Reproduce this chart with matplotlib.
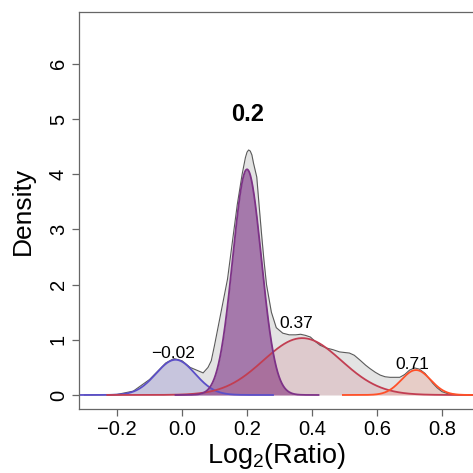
import numpy as np
import matplotlib
matplotlib.use("Agg")
import matplotlib.pyplot as plt

plt.rcParams['font.family'] = ['Liberation Sans', 'DejaVu Sans']
plt.rcParams['mathtext.fontset'] = 'custom'
plt.rcParams['mathtext.rm'] = 'Liberation Sans'
plt.rcParams['mathtext.default'] = 'regular'

# --- overall density ---
dens_x = [-0.30, -0.25, -0.20, -0.15, -0.10, -0.05, -0.025, 0.0, 0.025, 0.045,
          0.065, 0.08, 0.09, 0.10, 0.12, 0.14, 0.16, 0.17, 0.185, 0.195,
          0.20, 0.205, 0.21, 0.215, 0.22, 0.23, 0.237, 0.245, 0.252, 0.26,
          0.275, 0.29, 0.31, 0.33, 0.35, 0.365,
          0.38, 0.395, 0.41, 0.425, 0.445, 0.465, 0.485, 0.50, 0.515, 0.53,
          0.548, 0.565, 0.578, 0.595, 0.61, 0.625, 0.64, 0.655, 0.67, 0.685,
          0.70, 0.715, 0.73, 0.748, 0.76, 0.772, 0.785, 0.80, 0.82, 0.85, 0.95]
dens_y = [0.0, 0.002, 0.01, 0.07, 0.28, 0.58, 0.66, 0.62, 0.50, 0.45,
          0.40, 0.50, 0.62, 0.90, 1.50, 2.10, 3.00, 3.45, 4.00, 4.30,
          4.40, 4.44, 4.42, 4.35, 4.20, 3.95, 3.45, 2.90, 2.45, 2.00,
          1.50, 1.22, 1.12, 1.09, 1.09, 1.10,
          1.08, 1.05, 0.97, 0.90, 0.85, 0.82, 0.78, 0.77, 0.76, 0.72,
          0.63, 0.54, 0.48, 0.41, 0.36, 0.33, 0.32, 0.32, 0.32, 0.37,
          0.45, 0.49, 0.47, 0.39, 0.30, 0.21, 0.13, 0.06, 0.02, 0.005, 0.0]

# --- mixture components ---
comp_mean = [-0.02, 0.20, 0.37, 0.72]
comp_sd = [0.060, 0.044, 0.120, 0.045]
comp_weight = [0.096, 0.451, 0.310, 0.051]
comp_label = ['\u22120.02', '0.2', '0.37', '0.71']
comp_color = ['#5b4fc8', '#7d3287', '#c23e52', '#ff5028']
comp_alpha = [0.20, 0.60, 0.15, 0.15]
label_pos = [(-0.028, 0.76), (0.203, 5.08), (0.353, 1.30), (0.71, 0.56)]
label_size = [12.5, 17, 12.5, 12.5]
label_bold = [False, True, False, False]

fig = plt.figure(figsize=(4.73, 4.73), dpi=100)
ax = fig.add_axes([79 / 473, 64 / 473, (490.75 - 79) / 473, (461 - 64) / 473])

ax.fill_between(dens_x, dens_y, color='#e3e3e3', lw=0)
ax.plot(dens_x, dens_y, color='#5a5a5a', lw=0.8)

curves = []
for m, s, w in zip(comp_mean, comp_sd, comp_weight):
    xs = np.linspace(m - 5 * s, m + 5 * s, 400)
    ys = w / (s * np.sqrt(2 * np.pi)) * np.exp(-0.5 * ((xs - m) / s) ** 2)
    curves.append((xs, ys))

for (xs, ys), c, a in zip(curves, comp_color, comp_alpha):
    ax.fill_between(xs, ys, color=c, alpha=a, lw=0)

# line draw order: blue, red, purple, orange
for i in [0, 2, 1, 3]:
    xs, ys = curves[i]
    ax.plot(xs, ys, color=comp_color[i], lw=1.3)

for lab, (lx, ly), fs, b in zip(comp_label, label_pos, label_size, label_bold):
    ax.text(lx, ly, lab, ha='center', va='center', fontsize=fs,
            fontweight='bold' if b else 'normal')

ax.set_xlim(-0.317, 0.95)
ax.set_ylim(-0.254, 6.94)
ax.set_xticks([-0.2, 0.0, 0.2, 0.4, 0.6, 0.8])
ax.set_xticklabels(['\u22120.2', '0.0', '0.2', '0.4', '0.6', '0.8'])
ax.set_yticks(range(0, 7))
for lab in ax.get_yticklabels():
    lab.set_rotation(90)
    lab.set_va('center')
ax.tick_params(direction='out', length=5, width=0.9, color='#666666',
               labelsize=14.5, pad=3)
for sp in ax.spines.values():
    sp.set_color('#666666')
    sp.set_linewidth(0.9)

fig.text(276.7 / 473, 1 - 456 / 473, 'Log$_2$(Ratio)', ha='center', va='center', fontsize=19.5)
fig.text(22.8 / 473, 1 - 211 / 473, 'Density', ha='center', va='center',
         rotation=90, fontsize=19)

fig.savefig('out.png', dpi=100)
